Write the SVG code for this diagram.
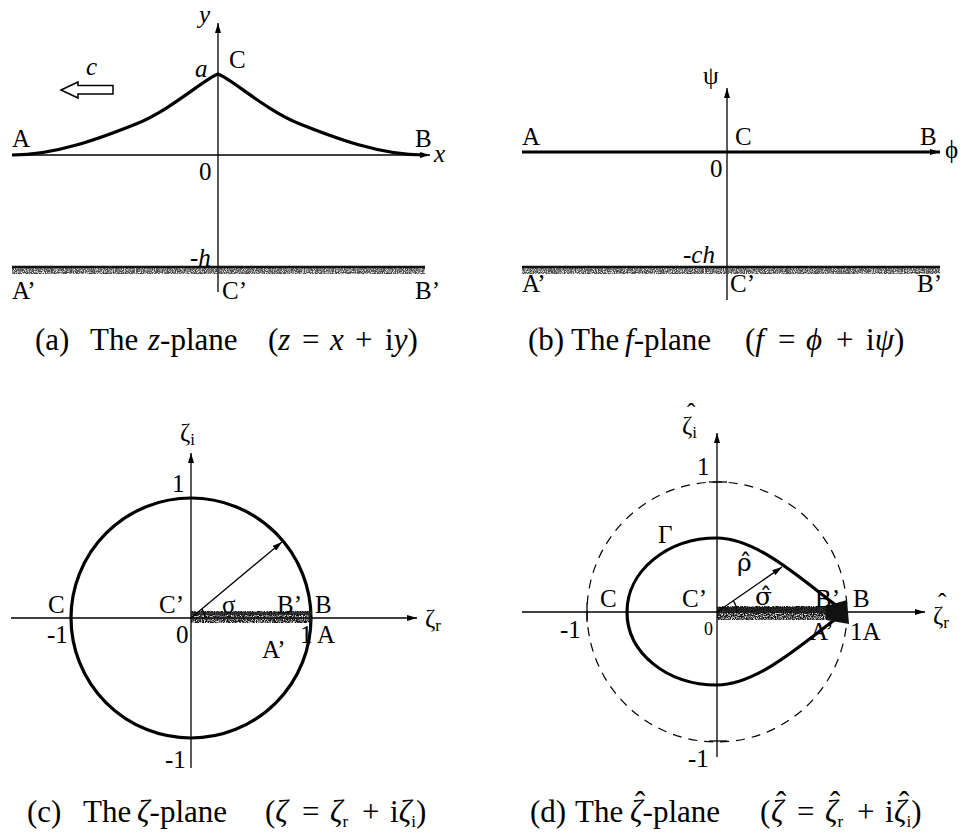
<svg xmlns="http://www.w3.org/2000/svg" width="963" height="833" viewBox="0 0 963 833">
<style>
.ax{stroke:#000;stroke-width:1.3;fill:none}
.thick{stroke:#000;stroke-width:3.2;fill:none}
.dash{stroke:#000;stroke-width:1.2;fill:none;stroke-dasharray:9 7}
text{font-family:"Liberation Serif","Times New Roman",serif;fill:#000}
.lb{font-size:25px}
.it{font-style:italic}
.cap{font-size:31px}
.sub{font-size:17px}
.sm{font-size:18px}
.hat{font-family:"DejaVu Serif",serif}
.grain{filter:url(#grain)}
</style>
<defs>
<marker id="ah" viewBox="0 0 10 6" refX="10" refY="3" markerWidth="10" markerHeight="6" markerUnits="userSpaceOnUse" orient="auto">
<path d="M0,0 L10,3 L0,6 z" fill="#000"/>
</marker>
<filter id="grain" x="0" y="-0.5" width="1" height="2">
<feTurbulence type="fractalNoise" baseFrequency="0.9" numOctaves="2" seed="4" result="n"/>
<feColorMatrix in="n" type="matrix" values="0 0 0 0 0 0 0 0 0 0 0 0 0 0 0 0 0 0 -3 2.2" result="a"/>
<feComposite in="SourceGraphic" in2="a" operator="in"/>
</filter>
</defs>

<!-- Panel (a) -->
<g id="panel-a">
<line class="ax" x1="12" y1="155" x2="430" y2="155" marker-end="url(#ah)"/>
<line class="ax" x1="218" y1="292" x2="218" y2="23" marker-end="url(#ah)"/>
<path class="thick" d="M12,155 C56,155 101,138 136,124 C171,110 204,79 218,74 C232,79 265,110 300,124 C335,138 380,155 424,155"/>
<g id="ground-a">
<rect class="grain" x="12" y="266" width="413" height="8" fill="#444"/>
<line x1="12" y1="267" x2="425" y2="267" stroke="#111" stroke-width="2.5"/>
</g>
<polygon points="61,90 78,82 78,85.5 113,85.5 113,94 78,94 78,98" fill="#fff" stroke="#000" stroke-width="1.5"/>
<text class="lb it" x="199" y="23">y</text>
<text class="lb" x="229" y="68">C</text>
<text class="lb it" x="195" y="77">a</text>
<text class="lb it" x="86" y="75">c</text>
<text class="lb" x="12" y="147">A</text>
<text class="lb" x="415" y="147">B</text>
<text class="lb it" x="434" y="162">x</text>
<text class="lb" x="199" y="180">0</text>
<text class="lb" x="190" y="266">-<tspan class="it">h</tspan></text>
<text class="lb" x="12" y="299">A’</text>
<text class="lb" x="222" y="299">C’</text>
<text class="lb" x="415" y="299">B’</text>
</g>

<!-- Panel (b) -->
<g id="panel-b">
<line class="ax" x1="727" y1="300" x2="727" y2="88" marker-end="url(#ah)"/>
<line x1="522" y1="152" x2="940" y2="152" stroke="#000" stroke-width="3" marker-end="url(#ah)"/>
<g id="ground-b">
<rect class="grain" x="522" y="266" width="418" height="8" fill="#444"/>
<line x1="522" y1="267" x2="940" y2="267" stroke="#111" stroke-width="2.5"/>
</g>
<text class="lb" x="703" y="84">ψ</text>
<text class="lb" x="522" y="145">A</text>
<text class="lb" x="735" y="145">C</text>
<text class="lb" x="920" y="145">B</text>
<text class="lb" x="945" y="158">ϕ</text>
<text class="lb" x="710" y="177">0</text>
<text class="lb" x="683" y="263">-<tspan class="it">ch</tspan></text>
<text class="lb" x="522" y="292">A’</text>
<text class="lb" x="730" y="292">C’</text>
<text class="lb" x="917" y="292">B’</text>
</g>

<!-- Panel (c) -->
<g id="panel-c">
<line class="ax" x1="11" y1="618" x2="417" y2="618" marker-end="url(#ah)"/>
<line class="ax" x1="191" y1="768" x2="191" y2="453" marker-end="url(#ah)"/>
<circle class="thick" cx="191" cy="618" r="120"/>
<g id="band-c">
<rect class="grain" x="191" y="611" width="121" height="12" fill="#111"/>
<rect x="191" y="612" width="121" height="3" fill="#222" opacity="0.8"/>
</g>
<line x1="191" y1="618" x2="282" y2="542" stroke="#000" stroke-width="1.3" marker-end="url(#ah)"/>
<path d="M205,618 A14,14 0 0 0 201.7,609" class="ax"/>
<text class="lb" x="180" y="441">ζ<tspan class="sub" dy="4">i</tspan></text>
<text class="lb" x="172" y="492">1</text>
<text class="lb" x="48" y="613">C</text>
<text class="lb" x="159" y="613">C’</text>
<text class="lb" x="222" y="613">σ</text>
<text class="lb" x="277" y="613">B’</text>
<text class="lb" x="315" y="613">B</text>
<text class="lb" x="425" y="627">ζ<tspan class="sub" dy="4">r</tspan></text>
<text class="lb" x="47" y="643">-1</text>
<text class="lb" x="176" y="643">0</text>
<text class="lb" x="300" y="643">1</text>
<text class="lb" x="317" y="643">A</text>
<text class="lb" x="262" y="658">A’</text>
<text class="lb" x="165" y="768">-1</text>
</g>

<!-- Panel (d) -->
<g id="panel-d">
<line class="ax" x1="522" y1="612" x2="925" y2="612" marker-end="url(#ah)"/>
<line class="ax" x1="717" y1="757" x2="717" y2="433" marker-end="url(#ah)"/>
<circle class="dash" cx="717" cy="612" r="130"/>
<line class="ax" x1="709" y1="482" x2="727" y2="482"/>
<line class="ax" x1="709" y1="741" x2="727" y2="741"/>
<line class="ax" x1="587" y1="603" x2="587" y2="622"/>
<path class="thick" d="M845,612 C810,587 760,538 717,538 C667,538 627,571 627,612 C627,653 667,685 717,685 C760,685 810,637 845,612 Z"/>
<g id="band-d">
<rect class="grain" x="717" y="606" width="128" height="14" fill="#111"/>
<rect x="717" y="607" width="128" height="4" fill="#111" opacity="0.8"/>
<polygon points="826,606 847,600 849,624 826,620" fill="#111"/>
</g>
<line x1="717" y1="612" x2="782" y2="567" stroke="#000" stroke-width="1.3" marker-end="url(#ah)"/>
<path d="M737,612 A20,20 0 0 0 733.5,601" class="ax"/>
<text class="lb"><tspan x="687" y="421">ˆ</tspan><tspan x="682" y="434">ζ</tspan><tspan class="sub" dy="4">i</tspan></text>
<text class="lb" x="697" y="475">1</text>
<text class="lb" x="658" y="543">Γ</text>
<text class="lb hat" font-size="22" x="737" y="571">ρ&#x302;</text>
<text class="lb" x="600" y="607">C</text>
<text class="lb" x="682" y="607">C’</text>
<text class="lb hat" font-size="22" x="755" y="605">σ&#x302;</text>
<text class="lb" x="815" y="607">B’</text>
<text class="lb" x="853" y="607">B</text>
<text class="lb"><tspan x="938" y="611">ˆ</tspan><tspan x="933" y="624">ζ</tspan><tspan class="sub" dy="4">r</tspan></text>
<text class="lb" x="560" y="638">-1</text>
<text class="sm" x="704" y="635">0</text>
<text class="lb" x="810" y="640">A’</text>
<text class="lb" x="850" y="640">1A</text>
<text class="lb" x="688" y="767">-1</text>
</g>

<!-- Captions -->
<g id="captions">
<text class="cap" y="350"><tspan x="35">(a)</tspan><tspan x="90">The</tspan><tspan x="148" class="it">z</tspan>-plane<tspan x="268">(</tspan><tspan class="it">z</tspan><tspan x="302">=</tspan><tspan x="330" class="it">x</tspan><tspan x="355">+</tspan><tspan x="385">i</tspan><tspan class="it">y</tspan>)</text>
<text class="cap" y="350"><tspan x="528">(b)</tspan><tspan x="571">The</tspan><tspan x="625" class="it">f</tspan>-plane<tspan x="745">(</tspan><tspan class="it">f</tspan><tspan x="778">=</tspan><tspan x="806" class="it">ϕ</tspan><tspan x="836">+</tspan><tspan x="866">i</tspan><tspan class="it">ψ</tspan>)</text>
<text class="cap" y="822"><tspan x="27">(c)</tspan><tspan x="83">The</tspan><tspan x="137" class="it">ζ</tspan>-plane<tspan x="265">(</tspan><tspan class="it">ζ</tspan><tspan x="302">=</tspan><tspan x="330" class="it">ζ</tspan><tspan class="sub" dy="5">r</tspan><tspan x="362" dy="-5">+</tspan><tspan x="390">i</tspan><tspan class="it">ζ</tspan><tspan class="sub" dy="5">i</tspan><tspan dy="-5">)</tspan></text>
<text class="cap"><tspan x="635" y="813">ˆ</tspan><tspan x="776" y="813">ˆ</tspan><tspan x="830" y="813">ˆ</tspan><tspan x="899" y="813">ˆ</tspan><tspan x="530" y="822">(d)</tspan><tspan x="575">The</tspan><tspan x="630" class="it">ζ</tspan>-plane<tspan x="760">(</tspan><tspan x="771" class="it">ζ</tspan><tspan x="797">=</tspan><tspan x="825" class="it">ζ</tspan><tspan class="sub" dy="5">r</tspan><tspan x="857" dy="-5">+</tspan><tspan x="885">i</tspan><tspan x="894" class="it">ζ</tspan><tspan class="sub" dy="5">i</tspan><tspan dy="-5">)</tspan></text>
</g>
</svg>
